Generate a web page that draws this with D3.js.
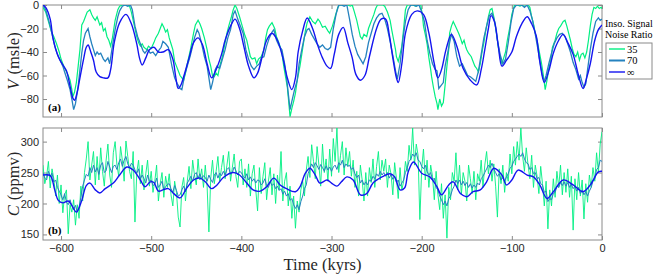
<!DOCTYPE html>
<html>
<head>
<meta charset="utf-8">
<script src="https://cdn.jsdelivr.net/npm/d3@7"></script>
<style>
body { margin: 0; background: #fff; }
</style>
</head>
<body>
<div class="chart"></div>
<script>
var WIDTH = 654;
var HEIGHT = 274;
var LEFT = 43;
var RIGHT = 602;
var TOP_A = 5, BOT_A = 117;
var TOP_B = 128, BOT_B = 240;

var COL_35 = "#00ef82";
var COL_70 = "#2582bf";
var COL_INF = "#1414f0";
var BOX = "#8a8a8a";
var SERIF = "\"Liberation Serif\", \"Times New Roman\", \"DejaVu Serif\", serif";

// legend / tick labels
var snrLabels = ["35", "70", "\u221e"];
var timeTicks = [-600, -500, -400, -300, -200, -100, 0];
var seaTicks = [0, -20, -40, -60, -80];
var co2Ticks = [150, 200, 250, 300];

// (a) sea level, [time kyr, V msle]
var seaInf = [[-620,0],[-617,-2],[-612,-12],[-609,-28],[-603,-44],[-598,-51],[-594,-56],[-590,-69],[-587,-79],[-585,-81],[-582,-74],[-580,-66],[-575,-46],[-572,-36],[-570,-34],[-567,-40],[-564,-47],[-561,-57],[-557,-61],[-553,-62],[-548,-62],[-545,-55],[-541,-32],[-535,-15],[-528,-8],[-522,-16],[-516,-33],[-513,-45],[-510,-51],[-506,-45],[-502,-38],[-497,-36],[-492,-40],[-487,-40],[-481,-38],[-476,-46],[-473,-60],[-470,-71],[-467,-68],[-464,-61],[-458,-45],[-453,-32],[-448,-28],[-443,-34],[-438,-50],[-433,-62],[-428,-55],[-422,-42],[-418,-30],[-412,-18],[-407,-12],[-402,-20],[-397,-36],[-392,-52],[-386,-62],[-382,-58],[-376,-41],[-372,-30],[-366,-24],[-360,-30],[-354,-45],[-349,-62],[-344,-72],[-340,-62],[-337,-40],[-332,-22],[-327,-11],[-321,-20],[-315,-35],[-310,-45],[-305,-52],[-301,-54],[-297,-42],[-292,-25],[-287,-19],[-282,-32],[-277,-45],[-273,-59],[-268,-64],[-263,-60],[-258,-44],[-250,-20],[-245,-12],[-240,-12],[-236,-25],[-232,-45],[-228,-62],[-226,-66],[-222,-50],[-218,-24],[-211,-8],[-205,-5],[-198,-8],[-192,-24],[-186,-50],[-182,-62],[-178,-55],[-173,-38],[-167,-25],[-161,-35],[-154,-54],[-146,-64],[-139,-68],[-134,-55],[-130,-38],[-126,-20],[-123,-9],[-119,-15],[-115,-35],[-111,-52],[-106,-47],[-100,-40],[-95,-27],[-89,-16],[-83,-10],[-78,-16],[-73,-26],[-69,-48],[-64,-66],[-59,-56],[-54,-41],[-48,-30],[-43,-25],[-38,-32],[-32,-42],[-26,-60],[-21,-71],[-17,-62],[-13,-50],[-8,-30],[-4,-21],[0,-17]];

var sea70 = [[-620,0],[-617,-4],[-614,-12],[-612,-18],[-609,-28],[-607,-35],[-604,-42],[-601,-47],[-598,-52],[-596,-57],[-593,-64],[-590,-72],[-588,-80],[-586,-89],[-584,-84],[-581,-69],[-579,-55],[-577,-41],[-575,-30],[-573,-24],[-570,-20],[-568,-27],[-566,-33],[-564,-38],[-562,-43],[-560,-40],[-558,-42],[-556,-41],[-553,-46],[-551,-48],[-548,-45],[-546,-50],[-543,-35],[-540,-21],[-537,-10],[-535,-5],[-532,-1],[-529,0],[-526,-1],[-523,0],[-521,-4],[-518,-18],[-515,-27],[-512,-33],[-509,-39],[-507,-41],[-504,-38],[-501,-41],[-498,-40],[-495,-43],[-492,-39],[-489,-36],[-487,-31],[-484,-33],[-481,-36],[-479,-44],[-477,-52],[-474,-62],[-471,-67],[-468,-71],[-466,-72],[-463,-60],[-460,-52],[-457,-44],[-455,-38],[-452,-28],[-449,-21],[-447,-24],[-444,-33],[-441,-44],[-438,-52],[-436,-62],[-434,-72],[-432,-66],[-429,-55],[-427,-52],[-424,-54],[-421,-46],[-418,-38],[-415,-28],[-412,-21],[-409,-8],[-407,-5],[-404,-12],[-401,-18],[-398,-24],[-395,-38],[-392,-46],[-389,-52],[-386,-55],[-383,-52],[-380,-50],[-378,-45],[-375,-44],[-372,-35],[-369,-28],[-366,-23],[-364,-21],[-361,-30],[-358,-35],[-355,-38],[-352,-50],[-350,-61],[-348,-75],[-346,-89],[-344,-82],[-341,-72],[-338,-64],[-336,-50],[-333,-38],[-330,-27],[-327,-21],[-325,-20],[-322,-25],[-319,-29],[-316,-33],[-313,-36],[-310,-34],[-307,-37],[-304,-38],[-301,-36],[-298,-20],[-295,-8],[-292,0],[-289,0],[-286,-1],[-283,0],[-280,-12],[-277,-25],[-274,-35],[-271,-42],[-268,-46],[-265,-50],[-262,-44],[-259,-32],[-256,-24],[-253,-16],[-250,-11],[-247,-8],[-244,-7],[-241,-12],[-238,-20],[-235,-31],[-232,-43],[-229,-56],[-227,-63],[-224,-50],[-221,-30],[-218,-14],[-215,-4],[-212,0],[-209,0],[-206,-1],[-203,0],[-200,-6],[-197,-14],[-194,-30],[-191,-41],[-188,-50],[-185,-55],[-183,-56],[-181,-71],[-179,-69],[-176,-66],[-174,-52],[-171,-40],[-169,-32],[-167,-25],[-164,-31],[-161,-44],[-158,-52],[-155,-50],[-152,-55],[-149,-60],[-146,-61],[-143,-63],[-140,-65],[-137,-56],[-134,-42],[-131,-28],[-128,-18],[-125,-9],[-122,-7],[-119,-14],[-116,-30],[-113,-42],[-110,-50],[-107,-46],[-104,-32],[-101,-15],[-98,-3],[-95,0],[-92,0],[-89,0],[-86,-2],[-83,0],[-80,-5],[-77,-13],[-74,-25],[-71,-38],[-68,-52],[-66,-60],[-64,-65],[-62,-60],[-59,-50],[-56,-41],[-53,-33],[-50,-28],[-47,-25],[-44,-24],[-41,-27],[-38,-33],[-35,-40],[-32,-49],[-29,-55],[-26,-63],[-24,-60],[-22,-66],[-20,-70],[-18,-67],[-16,-55],[-13,-38],[-10,-24],[-7,-14],[-4,-11],[-2,-13],[0,-12]];

var sea35 = [[-620,-2],[-617,-6],[-614,-14],[-611,-22],[-608,-27],[-605,-33],[-602,-40],[-600,-46],[-597,-52],[-595,-55],[-592,-60],[-590,-64],[-588,-72],[-587,-78],[-585,-74],[-583,-66],[-581,-52],[-579,-38],[-577,-17],[-575,-14],[-573,-10],[-571,-6],[-568,-4],[-566,-8],[-564,-11],[-562,-13],[-560,-10],[-557,-17],[-555,-15],[-553,-22],[-551,-20],[-549,-27],[-547,-30],[-545,-35],[-543,-28],[-540,-13],[-537,-4],[-535,-1],[-532,0],[-529,0],[-526,0],[-524,-1],[-522,-6],[-520,-13],[-518,-20],[-516,-27],[-514,-32],[-512,-35],[-510,-33],[-508,-36],[-505,-38],[-503,-35],[-500,-37],[-497,-32],[-495,-28],[-492,-24],[-490,-20],[-488,-16],[-486,-19],[-484,-23],[-482,-21],[-480,-28],[-478,-33],[-476,-38],[-474,-48],[-472,-52],[-470,-56],[-468,-60],[-466,-62],[-464,-64],[-462,-58],[-460,-50],[-457,-40],[-455,-32],[-453,-24],[-451,-17],[-448,-13],[-446,-16],[-444,-20],[-441,-28],[-438,-38],[-436,-46],[-434,-52],[-432,-60],[-430,-61],[-428,-58],[-426,-60],[-424,-52],[-421,-44],[-418,-32],[-416,-24],[-414,-18],[-411,-10],[-409,-4],[-407,0],[-405,-3],[-402,-10],[-399,-18],[-396,-26],[-394,-30],[-392,-37],[-390,-44],[-388,-46],[-385,-45],[-383,-50],[-381,-46],[-378,-44],[-375,-38],[-373,-28],[-371,-21],[-369,-18],[-366,-15],[-363,-20],[-361,-27],[-358,-33],[-355,-41],[-353,-52],[-351,-61],[-349,-70],[-348,-78],[-346,-95],[-344,-88],[-342,-82],[-340,-75],[-338,-64],[-335,-52],[-333,-42],[-331,-32],[-329,-22],[-327,-15],[-324,-10],[-321,-14],[-318,-16],[-315,-12],[-313,-14],[-310,-19],[-307,-18],[-304,-22],[-302,-24],[-299,-18],[-296,-10],[-293,-2],[-291,0],[-288,0],[-285,0],[-282,0],[-279,-1],[-277,0],[-275,-5],[-272,-13],[-270,-20],[-268,-27],[-266,-29],[-264,-25],[-261,-27],[-259,-20],[-257,-16],[-255,-12],[-253,-8],[-251,-3],[-249,0],[-246,0],[-243,0],[-241,-1],[-238,-6],[-235,-13],[-233,-22],[-231,-30],[-229,-38],[-228,-44],[-226,-48],[-224,-42],[-222,-35],[-220,-20],[-218,-4],[-216,0],[-213,0],[-210,0],[-207,-1],[-204,0],[-201,0],[-199,-10],[-198,-18],[-196,-25],[-194,-33],[-192,-45],[-190,-55],[-189,-61],[-187,-70],[-185,-78],[-183,-84],[-182,-89],[-180,-80],[-178,-86],[-176,-83],[-174,-68],[-172,-52],[-170,-38],[-169,-24],[-167,-18],[-165,-14],[-162,-19],[-159,-24],[-157,-28],[-155,-33],[-153,-30],[-151,-36],[-150,-38],[-148,-41],[-145,-44],[-143,-48],[-141,-52],[-139,-54],[-137,-57],[-135,-50],[-133,-40],[-131,-32],[-129,-22],[-126,-10],[-124,-4],[-122,-3],[-120,-10],[-117,-24],[-115,-36],[-113,-44],[-111,-50],[-109,-45],[-107,-40],[-105,-30],[-102,-18],[-100,-8],[-97,0],[-94,0],[-91,-1],[-88,0],[-85,0],[-82,0],[-80,-2],[-78,-10],[-76,-16],[-74,-24],[-72,-30],[-70,-38],[-68,-46],[-67,-50],[-65,-60],[-63,-72],[-61,-64],[-59,-54],[-57,-48],[-55,-36],[-52,-30],[-50,-24],[-48,-20],[-46,-18],[-43,-14],[-41,-13],[-39,-18],[-37,-24],[-35,-30],[-33,-37],[-31,-42],[-29,-44],[-27,-40],[-25,-47],[-23,-42],[-21,-41],[-19,-45],[-17,-40],[-15,-30],[-13,-18],[-11,-8],[-9,-2],[-7,-3],[-5,-1],[-3,-3],[-1,-2],[0,-3]];

// (b) CO2, [time kyr, C ppmv] for the smooth run
var co2Inf = [[-620,246],[-612,245],[-607,222],[-603,205],[-598,201],[-592,204],[-588,197],[-583,186],[-577,205],[-572,229],[-568,233],[-562,222],[-557,217],[-551,224],[-542,233],[-535,246],[-527,259],[-520,254],[-512,238],[-507,227],[-501,235],[-497,234],[-492,220],[-487,222],[-481,224],[-475,216],[-468,209],[-461,224],[-453,238],[-446,241],[-440,235],[-433,224],[-427,230],[-420,242],[-409,250],[-402,246],[-394,233],[-387,222],[-379,220],[-372,227],[-364,241],[-357,230],[-350,224],[-340,219],[-335,227],[-329,249],[-324,257],[-318,246],[-313,233],[-305,238],[-300,233],[-294,228],[-289,235],[-283,243],[-276,238],[-268,214],[-261,216],[-254,233],[-244,243],[-235,248],[-230,243],[-224,222],[-219,225],[-215,251],[-209,267],[-200,249],[-191,243],[-183,227],[-178,214],[-170,230],[-165,235],[-157,216],[-150,211],[-143,219],[-135,222],[-128,235],[-120,257],[-111,246],[-106,230],[-100,238],[-93,254],[-83,246],[-76,243],[-69,230],[-61,208],[-54,219],[-43,238],[-32,230],[-21,219],[-13,230],[-4,251],[0,252]];

// noisy runs sampled every 2 kyr from -620 to 0
var co2Time = d3.range(-620, 1, 2);
var co2_70 = [
  250,241,238,252,244,249,235,238,226,220,
  214,206,216,202,198,206,196,190,197,186,
  194,210,228,238,247,244,258,250,262,251,
  258,247,262,266,250,253,268,259,250,260,
  262,255,266,272,260,270,276,264,258,265,
  262,254,249,256,240,246,240,233,246,236,
  238,229,231,241,226,230,236,222,227,231,
  232,224,218,229,221,212,214,222,228,219,
  233,238,244,236,247,250,241,248,240,245,
  242,236,246,239,234,246,250,241,249,245,
  252,246,255,258,247,250,259,253,246,252,
  250,244,241,248,238,243,236,240,233,238,
  237,230,233,240,229,226,235,229,232,224,
  228,221,224,215,220,212,216,205,208,198,
  192,198,190,203,212,224,230,248,256,264,
  258,266,261,255,263,258,252,261,254,259,
  252,259,262,255,266,262,270,258,264,260,
  262,255,258,248,242,246,233,238,230,235,
  230,238,236,244,240,248,244,252,246,250,
  244,250,241,247,239,244,234,238,228,233,
  238,250,258,268,272,280,276,282,270,268,
  260,256,262,252,246,250,238,241,226,222,
  212,206,198,204,196,208,212,222,228,238,
  232,238,230,236,229,234,226,232,225,230,
  226,233,230,240,244,250,256,262,258,265,
  256,250,244,248,238,242,236,243,248,257,
  260,268,272,276,280,276,282,272,266,264,
  255,258,248,250,240,242,232,230,218,220,
  203,208,206,216,218,228,226,234,229,235,
  228,234,226,231,224,228,220,226,216,222,
  214,219,212,220,226,236,240,255,258,270,
  268];
var co2_35 = [
  262,232,244,268,225,256,240,212,246,200,
  230,185,214,222,151,198,186,206,165,198,
  176,228,204,250,272,300,238,262,284,230,
  276,238,290,252,228,270,296,246,226,282,
  300,262,244,292,270,236,301,276,252,240,
  284,170,250,270,232,262,222,248,270,228,
  252,218,236,262,204,232,250,210,244,226,
  248,214,196,236,218,178,162,226,242,204,
  236,260,224,270,246,230,272,238,256,226,
  262,228,154,240,270,232,252,276,236,258,
  278,240,262,284,236,258,280,244,226,268,
  272,230,256,226,264,212,248,262,222,188,
  258,216,244,266,206,236,258,214,248,200,
  246,222,284,204,236,250,196,228,176,212,
  160,204,186,222,236,212,254,276,242,295,
  268,240,292,262,228,296,250,272,236,288,
  244,305,268,322,250,278,300,246,290,260,
  284,244,270,226,252,212,262,238,204,250,
  212,258,234,272,226,260,284,238,270,252,
  272,226,262,248,214,266,240,208,258,222,
  236,268,252,294,270,322,262,296,278,174,
  256,288,238,270,226,262,244,206,252,214,
  190,232,176,214,144,226,206,250,236,282,
  222,262,214,250,236,204,262,240,216,252,
  206,248,236,270,226,262,284,248,270,236,
  264,228,178,256,232,262,218,250,236,280,
  248,292,262,300,270,322,276,252,290,262,
  240,278,226,262,244,216,260,232,196,236,
  159,222,196,240,210,252,226,262,214,250,
  218,256,210,244,157,240,206,250,212,238,
  175,232,202,246,226,258,236,282,250,296,
  316];

var svg = d3.select(".chart")
    .append("svg")
    .attr("width", WIDTH)
    .attr("height", HEIGHT);

var x = d3.scaleLinear().domain([-620, 0]).range([LEFT, RIGHT]);
var yA = d3.scaleLinear().domain([-95.3, 0]).range([BOT_A, TOP_A]);
var yB = d3.scaleLinear().domain([141, 322]).range([BOT_B, TOP_B]);

var defs = svg.append("defs");
defs.append("clipPath").attr("id", "clipA").append("rect")
    .attr("x", LEFT).attr("y", TOP_A).attr("width", RIGHT - LEFT).attr("height", BOT_A - TOP_A);
defs.append("clipPath").attr("id", "clipB").append("rect")
    .attr("x", LEFT).attr("y", TOP_B).attr("width", RIGHT - LEFT).attr("height", BOT_B - TOP_B);

function styleAxis(g) {
    g.select(".domain").remove();
    g.attr("font-family", "Liberation Sans, Arial, sans-serif").attr("font-size", 11);
    g.selectAll(".tick line").attr("stroke", BOX);
    g.selectAll(".tick text").attr("fill", "#262626");
}

function drawPanel(y, top, bot, ticks, showTime) {
    svg.append("g")
        .attr("transform", "translate(" + LEFT + ",0)")
        .call(d3.axisLeft(y).tickValues(ticks).tickSizeInner(-4).tickSizeOuter(0).tickPadding(4))
        .call(styleAxis);
    svg.append("g")
        .attr("transform", "translate(" + RIGHT + ",0)")
        .call(d3.axisRight(y).tickValues(ticks).tickSizeInner(-4).tickSizeOuter(0).tickFormat(""))
        .call(styleAxis);
    svg.append("g")
        .attr("transform", "translate(0," + top + ")")
        .call(d3.axisTop(x).tickValues(timeTicks).tickSizeInner(-4).tickSizeOuter(0).tickFormat(""))
        .call(styleAxis);
    var xb = d3.axisBottom(x).tickValues(timeTicks).tickSizeInner(-4).tickSizeOuter(0).tickPadding(4);
    if (!showTime) xb.tickFormat("");
    svg.append("g")
        .attr("transform", "translate(0," + bot + ")")
        .call(xb)
        .call(styleAxis);
    svg.append("rect")
        .attr("x", LEFT).attr("y", top)
        .attr("width", RIGHT - LEFT).attr("height", bot - top)
        .attr("fill", "none").attr("stroke", BOX).attr("stroke-width", 1);
}

drawPanel(yA, TOP_A, BOT_A, seaTicks, false);
drawPanel(yB, TOP_B, BOT_B, co2Ticks, true);

// panel (a) lines
var lineA = d3.line().x(function(d) { return x(d[0]); }).y(function(d) { return yA(d[1]); });
var smoothA = d3.line().curve(d3.curveCatmullRom.alpha(0.5))
    .x(function(d) { return x(d[0]); }).y(function(d) { return yA(d[1]); });

var gA = svg.append("g").attr("clip-path", "url(#clipA)");
gA.append("path").datum(sea35).attr("d", lineA)
    .attr("fill", "none").attr("stroke", COL_35).attr("stroke-width", 1.2);
gA.append("path").datum(sea70).attr("d", lineA)
    .attr("fill", "none").attr("stroke", COL_70).attr("stroke-width", 1.3);
gA.append("path").datum(seaInf).attr("d", smoothA)
    .attr("fill", "none").attr("stroke", COL_INF).attr("stroke-width", 1.4);

// panel (b) lines
var lineB = d3.line().x(function(d, i) { return x(co2Time[i]); }).y(function(d) { return yB(d); });
var smoothB = d3.line().curve(d3.curveCatmullRom.alpha(0.5))
    .x(function(d) { return x(d[0]); }).y(function(d) { return yB(d[1]); });

var gB = svg.append("g").attr("clip-path", "url(#clipB)");
gB.append("path").datum(co2_35).attr("d", lineB)
    .attr("fill", "none").attr("stroke", COL_35).attr("stroke-width", 0.9);
gB.append("path").datum(co2_70).attr("d", lineB)
    .attr("fill", "none").attr("stroke", COL_70).attr("stroke-width", 1);
gB.append("path").datum(co2Inf).attr("d", smoothB)
    .attr("fill", "none").attr("stroke", COL_INF).attr("stroke-width", 1.4);

// panel tags
svg.append("text").attr("x", 48).attr("y", 111)
    .attr("font-family", SERIF).attr("font-size", 11).attr("font-weight", "bold")
    .text("(a)");
svg.append("text").attr("x", 48).attr("y", 234)
    .attr("font-family", SERIF).attr("font-size", 11).attr("font-weight", "bold")
    .text("(b)");

// axis titles
function yTitle(letter, unit, cy) {
    var t = svg.append("text")
        .attr("transform", "translate(19," + cy + ") rotate(-90)")
        .attr("text-anchor", "middle")
        .attr("font-family", SERIF)
        .attr("font-size", 16.5)
        .attr("fill", "#262626");
    t.append("tspan").attr("font-style", "italic").text(letter);
    t.append("tspan").attr("dx", 5).text("(" + unit + ")");
}
yTitle("V", "msle", 61);
yTitle("C", "ppmv", 184);

svg.append("text")
    .attr("x", (LEFT + RIGHT) / 2)
    .attr("y", 270)
    .attr("text-anchor", "middle")
    .attr("font-family", SERIF)
    .attr("font-size", 16.5)
    .attr("fill", "#262626")
    .text("Time (kyrs)");

// legend
svg.append("text").attr("x", 605).attr("y", 27)
    .attr("font-family", SERIF).attr("font-size", 10).text("Inso. Signal");
svg.append("text").attr("x", 605).attr("y", 38)
    .attr("font-family", SERIF).attr("font-size", 10).text("Noise Ratio");
svg.append("rect")
    .attr("x", 606).attr("y", 43).attr("width", 46).attr("height", 36)
    .attr("fill", "#fff").attr("stroke", BOX);

var legColors = [COL_35, COL_70, COL_INF];
var legRows = [49, 60.5, 72];
var leg = svg.selectAll(".leg")
    .data(snrLabels)
    .enter().append("g").attr("class", "leg");
leg.append("line")
    .attr("x1", 609).attr("x2", 625)
    .attr("y1", function(d, i) { return legRows[i]; })
    .attr("y2", function(d, i) { return legRows[i]; })
    .attr("stroke", function(d, i) { return legColors[i]; })
    .attr("stroke-width", function(d, i) { return i == 1 ? 2 : 1.4; });
leg.append("text")
    .attr("x", 627)
    .attr("y", function(d, i) { return legRows[i] + 3.5; })
    .attr("font-family", SERIF)
    .attr("font-size", 10.5)
    .text(function(d) { return d; });
</script>
</body>
</html>
